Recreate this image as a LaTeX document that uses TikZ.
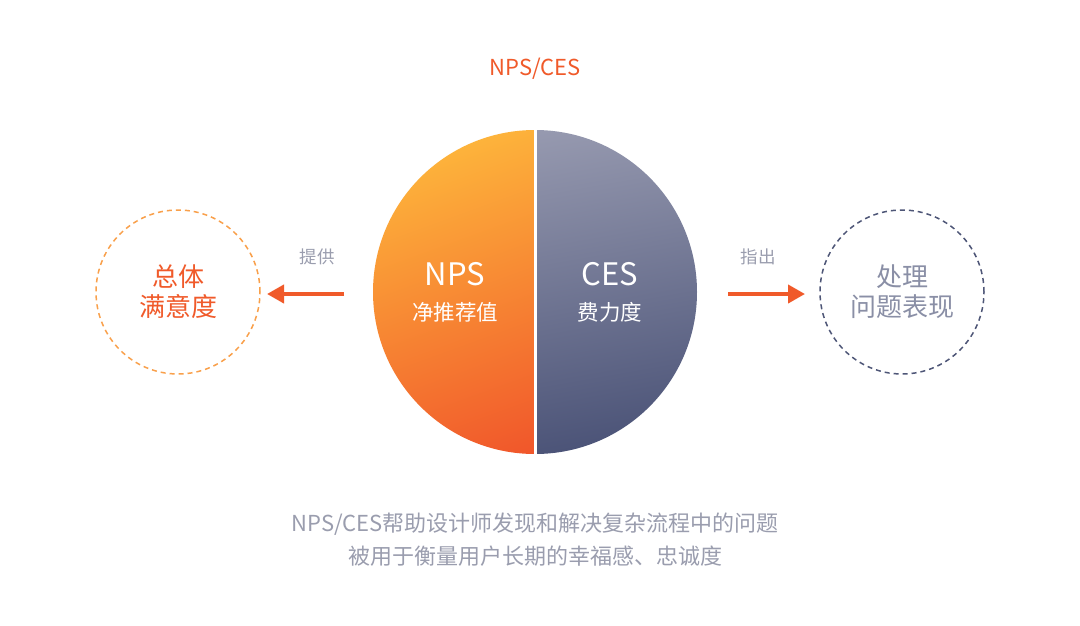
\documentclass[tikz,border=0pt]{standalone}
\usepackage{fontspec}
\setmainfont{Noto Sans CJK SC}
\usetikzlibrary{arrows.meta}
\definecolor{orangeA}{HTML}{FDB33B}
\definecolor{orangeB}{HTML}{F0532A}
\definecolor{slateA}{HTML}{979AB0}
\definecolor{slateB}{HTML}{4C5478}
\definecolor{redtxt}{HTML}{F05A2A}
\definecolor{dashor}{HTML}{F9A04B}
\definecolor{dashbl}{HTML}{4E5677}
\definecolor{graytxt}{HTML}{8A8FA6}
\definecolor{lgray}{HTML}{9A9DAE}
\tikzset{
  lbl/.style={inner sep=0pt, font=\fontsize{17.5}{20}\selectfont, text=lgray},
  conn/.style={redtxt, line width=4pt, -{Triangle[length=17pt,width=18pt]}},
  ring/.style={circle, minimum size=164pt, inner sep=0pt, line width=1.5pt, dash pattern=on 5pt off 4pt, align=center},
}
\begin{document}
\begin{tikzpicture}[x=1pt,y=-1pt]
\useasboundingbox[fill=white] (0,0) rectangle (1080,625);
% central circle
\begin{scope}
\clip (300,100) rectangle (535,500);
\shade[top color=orangeA, bottom color=orangeB, shading angle=20] (535,292) circle (162);
\end{scope}
\begin{scope}
\clip (535,100) rectangle (760,500);
\shade[top color=slateA, bottom color=slateB, shading angle=10] (535,292) circle (162);
\end{scope}
\draw[white, line width=3pt] (535,125) -- (535,460);
\node[circle, minimum size=324pt, inner sep=0pt] (core) at (535,292) {};
\node[inner sep=0pt, text=white, font=\fontsize{31}{33}\selectfont] (nps) at (455,274) {NPS};
\node[inner sep=0pt, text=white, font=\fontsize{21.5}{24}\selectfont] (npsz) at (455,312) {净推荐值};
\node[inner sep=0pt, text=white, font=\fontsize{31}{33}\selectfont] (ces) at (610,274) {CES};
\node[inner sep=0pt, text=white, font=\fontsize{21.5}{24}\selectfont] (cesz) at (610,312) {费力度};
% top title
\node[inner sep=0pt, text=redtxt, font=\fontsize{22}{24}\selectfont] (title) at (535,69) {NPS/CES};
% side rings
\node[ring, draw=dashor, text=redtxt, font=\fontsize{26}{30}\selectfont] (left) at (178,292) {总体\\满意度};
\node[ring, draw=dashbl, text=graytxt, font=\fontsize{26}{30}\selectfont] (right) at (902,292) {处理\\问题表现};
% arrows
\coordinate (la) at (344,294);
\coordinate (lb) at (267,294);
\coordinate (ra) at (728,294);
\coordinate (rb) at (805,294);
\draw[conn] (la) -- (lb);
\draw[conn] (ra) -- (rb);
\node[lbl] (tg) at (317,257) {提供};
\node[lbl] (zc) at (758,257) {指出};
% bottom text
\node[inner sep=0pt, text=lgray, font=\fontsize{22}{33}\selectfont, align=center] (note) at (535,540) {NPS/CES帮助设计师发现和解决复杂流程中的问题\\被用于衡量用户长期的幸福感、忠诚度};
\end{tikzpicture}
\end{document}
